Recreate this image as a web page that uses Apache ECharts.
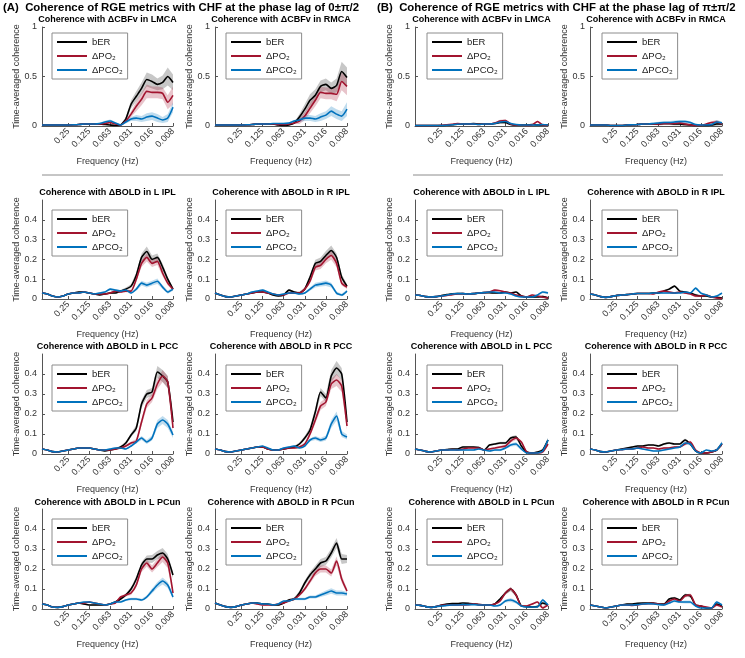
<!DOCTYPE html>
<html><head><meta charset="utf-8">
<script src="https://cdn.jsdelivr.net/npm/echarts@6/dist/echarts.min.js"></script>
<style>html,body{margin:0;padding:0;background:#fff}#c{width:745px;height:658px}</style>
</head><body><div id="c"></div>
<script>
// ---------- DATA ----------
const freqHz = [0.5946,0.5,0.4204,0.3536,0.2973,0.25,0.2102,0.1768,0.1487,0.125,0.1051,0.0884,0.0743,0.0625,0.0526,0.0442,0.0372,0.03125,0.0263,0.0221,0.0186,0.015625,0.0131,0.0110,0.0093,0.0078125];
const xTickValues = [0.25,0.125,0.0625,0.03125,0.015625,0.0078125];
const xTickLabels = ['0.25','0.125','0.063','0.031','0.016','0.008'];
const seriesNames = ['bER','ΔPO₂','ΔPCO₂'];
const panelTitles = ['Coherence with ΔCBFv in LMCA','Coherence with ΔCBFv in RMCA','Coherence with ΔBOLD in L IPL','Coherence with ΔBOLD in R IPL','Coherence with ΔBOLD in L PCC','Coherence with ΔBOLD in R PCC','Coherence with ΔBOLD in L PCun','Coherence with ΔBOLD in R PCun'];
const groupHeaders = ['(A)  Coherence of RGE metrics with CHF at the phase lag of 0±π/2','(B)  Coherence of RGE metrics with CHF at the phase lag of π±π/2'];
const yTicksRow1 = [0,0.5,1];
const yTicksOther = [0,0.1,0.2,0.3,0.4];

// (A) phase lag 0 - means and half-widths of shaded band
const aLMCA_bER   = [0.01,0.01,0.01,0.01,0.01,0.01,0.012,0.015,0.02,0.02,0.02,0.02,0.015,0.01,0.005,0.01,0.07,0.22,0.3,0.38,0.47,0.45,0.42,0.44,0.5,0.44];
const aLMCA_PO2   = [0.01,0.01,0.01,0.01,0.01,0.01,0.012,0.015,0.02,0.02,0.02,0.02,0.025,0.035,0.02,0.01,0.05,0.12,0.2,0.27,0.35,0.34,0.34,0.33,0.24,0.31];
const aLMCA_PCO2  = [0.01,0.01,0.01,0.01,0.01,0.01,0.012,0.015,0.02,0.02,0.02,0.025,0.04,0.05,0.03,0.01,0.04,0.07,0.08,0.07,0.09,0.1,0.08,0.06,0.08,0.19];
const aLMCA_bER_e = [0.003,0.003,0.003,0.003,0.003,0.003,0.004,0.005,0.006,0.006,0.006,0.006,0.006,0.006,0.005,0.006,0.02,0.04,0.05,0.06,0.07,0.07,0.06,0.07,0.09,0.08];
const aLMCA_PO2_e = [0.003,0.003,0.003,0.003,0.003,0.003,0.004,0.005,0.006,0.006,0.006,0.006,0.008,0.01,0.006,0.006,0.015,0.03,0.05,0.06,0.07,0.06,0.06,0.06,0.07,0.09];
const aLMCA_PCO2_e= [0.003,0.003,0.003,0.003,0.003,0.003,0.004,0.005,0.006,0.006,0.006,0.008,0.012,0.015,0.01,0.006,0.015,0.02,0.03,0.03,0.04,0.04,0.04,0.03,0.04,0.05];

const aRMCA_bER   = [0.01,0.01,0.01,0.01,0.01,0.01,0.012,0.015,0.02,0.02,0.02,0.02,0.01,0.005,0.01,0.03,0.09,0.17,0.26,0.31,0.4,0.42,0.38,0.41,0.55,0.49];
const aRMCA_PO2   = [0.01,0.01,0.01,0.01,0.01,0.01,0.012,0.015,0.02,0.02,0.02,0.02,0.015,0.015,0.02,0.03,0.05,0.1,0.18,0.26,0.34,0.33,0.33,0.32,0.45,0.4];
const aRMCA_PCO2  = [0.01,0.01,0.01,0.01,0.01,0.01,0.012,0.015,0.02,0.02,0.02,0.025,0.025,0.025,0.03,0.05,0.06,0.08,0.08,0.07,0.09,0.11,0.15,0.12,0.1,0.17];
const aRMCA_bER_e = [0.003,0.003,0.003,0.003,0.003,0.003,0.004,0.005,0.006,0.006,0.006,0.006,0.006,0.006,0.006,0.01,0.03,0.05,0.06,0.06,0.06,0.06,0.06,0.07,0.1,0.1];
const aRMCA_PO2_e = [0.003,0.003,0.003,0.003,0.003,0.003,0.004,0.005,0.006,0.006,0.006,0.006,0.006,0.006,0.006,0.01,0.03,0.04,0.05,0.06,0.06,0.06,0.06,0.07,0.09,0.09];
const aRMCA_PCO2_e= [0.003,0.003,0.003,0.003,0.003,0.003,0.004,0.005,0.006,0.006,0.006,0.006,0.006,0.008,0.008,0.01,0.02,0.03,0.03,0.03,0.04,0.04,0.05,0.05,0.05,0.07];

const aLIPL_bER   = [0.03,0.025,0.015,0.01,0.015,0.025,0.03,0.035,0.035,0.03,0.025,0.02,0.025,0.03,0.03,0.04,0.05,0.065,0.12,0.21,0.24,0.2,0.21,0.16,0.1,0.05];
const aLIPL_PO2   = [0.03,0.025,0.015,0.01,0.015,0.025,0.03,0.03,0.035,0.03,0.025,0.025,0.025,0.03,0.04,0.035,0.04,0.04,0.1,0.18,0.21,0.18,0.19,0.13,0.08,0.05];
const aLIPL_PCO2  = [0.03,0.025,0.015,0.01,0.015,0.025,0.03,0.03,0.035,0.03,0.025,0.03,0.035,0.05,0.045,0.04,0.045,0.03,0.05,0.08,0.07,0.08,0.09,0.06,0.035,0.05];
const aLIPL_bER_e = [0.004,0.004,0.003,0.003,0.003,0.004,0.004,0.004,0.004,0.004,0.004,0.004,0.004,0.005,0.005,0.006,0.008,0.01,0.015,0.02,0.025,0.02,0.02,0.018,0.012,0.008];
const aLIPL_PO2_e = [0.004,0.004,0.003,0.003,0.003,0.004,0.004,0.004,0.004,0.004,0.004,0.004,0.004,0.005,0.005,0.005,0.006,0.008,0.012,0.018,0.02,0.018,0.018,0.015,0.01,0.008];
const aLIPL_PCO2_e= [0.003,0.003,0.003,0.003,0.003,0.003,0.003,0.003,0.003,0.003,0.003,0.004,0.004,0.006,0.005,0.005,0.005,0.005,0.008,0.012,0.012,0.012,0.014,0.01,0.008,0.008];

const aRIPL_bER   = [0.03,0.02,0.012,0.01,0.015,0.02,0.025,0.03,0.035,0.035,0.03,0.02,0.015,0.02,0.045,0.035,0.03,0.05,0.11,0.18,0.19,0.22,0.245,0.21,0.11,0.065];
const aRIPL_PO2   = [0.03,0.02,0.012,0.01,0.015,0.02,0.025,0.03,0.035,0.035,0.03,0.025,0.02,0.02,0.03,0.03,0.03,0.05,0.09,0.16,0.17,0.2,0.22,0.18,0.08,0.06];
const aRIPL_PCO2  = [0.03,0.02,0.012,0.01,0.015,0.02,0.025,0.035,0.04,0.045,0.035,0.025,0.02,0.025,0.03,0.03,0.025,0.03,0.05,0.07,0.075,0.08,0.07,0.03,0.02,0.04];
const aRIPL_bER_e = [0.004,0.004,0.003,0.003,0.003,0.004,0.004,0.004,0.004,0.004,0.004,0.004,0.004,0.005,0.006,0.006,0.006,0.008,0.012,0.018,0.02,0.022,0.025,0.02,0.015,0.01];
const aRIPL_PO2_e = [0.004,0.004,0.003,0.003,0.003,0.004,0.004,0.004,0.004,0.004,0.004,0.004,0.004,0.005,0.005,0.005,0.006,0.008,0.012,0.016,0.018,0.02,0.022,0.02,0.012,0.01];
const aRIPL_PCO2_e= [0.003,0.003,0.003,0.003,0.003,0.003,0.003,0.003,0.004,0.004,0.004,0.004,0.004,0.004,0.004,0.005,0.005,0.005,0.008,0.012,0.012,0.014,0.012,0.008,0.006,0.008];

const aLPCC_bER   = [0.025,0.02,0.012,0.01,0.015,0.02,0.025,0.03,0.03,0.03,0.025,0.02,0.015,0.02,0.025,0.035,0.055,0.095,0.13,0.25,0.3,0.31,0.41,0.39,0.36,0.16];
const aLPCC_PO2   = [0.025,0.02,0.012,0.01,0.015,0.02,0.025,0.03,0.03,0.03,0.025,0.02,0.02,0.02,0.025,0.03,0.04,0.055,0.065,0.16,0.25,0.28,0.35,0.39,0.36,0.13];
const aLPCC_PCO2  = [0.025,0.02,0.012,0.01,0.015,0.02,0.025,0.03,0.03,0.03,0.025,0.02,0.02,0.025,0.03,0.03,0.025,0.04,0.06,0.08,0.06,0.08,0.15,0.17,0.15,0.095];
const aLPCC_bER_e = [0.004,0.004,0.003,0.003,0.003,0.004,0.004,0.004,0.004,0.004,0.004,0.004,0.004,0.004,0.005,0.006,0.008,0.01,0.015,0.02,0.02,0.02,0.03,0.03,0.03,0.02];
const aLPCC_PO2_e = [0.004,0.004,0.003,0.003,0.003,0.004,0.004,0.004,0.004,0.004,0.004,0.004,0.004,0.004,0.005,0.005,0.006,0.008,0.01,0.018,0.02,0.02,0.025,0.03,0.03,0.02];
const aLPCC_PCO2_e= [0.003,0.003,0.003,0.003,0.003,0.003,0.003,0.003,0.003,0.003,0.003,0.003,0.003,0.004,0.004,0.004,0.004,0.005,0.008,0.01,0.01,0.012,0.02,0.02,0.02,0.015];

const aRPCC_bER   = [0.025,0.02,0.012,0.01,0.015,0.02,0.025,0.03,0.035,0.035,0.025,0.02,0.02,0.025,0.03,0.035,0.05,0.08,0.12,0.21,0.31,0.28,0.39,0.43,0.4,0.16];
const aRPCC_PO2   = [0.025,0.02,0.012,0.01,0.015,0.02,0.025,0.03,0.035,0.035,0.025,0.02,0.02,0.025,0.03,0.03,0.035,0.05,0.1,0.17,0.24,0.26,0.35,0.37,0.34,0.14];
const aRPCC_PCO2  = [0.025,0.02,0.012,0.01,0.015,0.02,0.025,0.03,0.035,0.04,0.03,0.02,0.02,0.03,0.035,0.04,0.03,0.04,0.07,0.08,0.07,0.08,0.15,0.19,0.1,0.085];
const aRPCC_bER_e = [0.004,0.004,0.003,0.003,0.003,0.004,0.004,0.004,0.004,0.004,0.004,0.004,0.004,0.004,0.005,0.006,0.008,0.01,0.015,0.02,0.02,0.02,0.03,0.035,0.03,0.02];
const aRPCC_PO2_e = [0.004,0.004,0.003,0.003,0.003,0.004,0.004,0.004,0.004,0.004,0.004,0.004,0.004,0.004,0.005,0.005,0.006,0.008,0.012,0.018,0.02,0.02,0.025,0.03,0.03,0.02];
const aRPCC_PCO2_e= [0.003,0.003,0.003,0.003,0.003,0.003,0.003,0.003,0.003,0.003,0.003,0.003,0.003,0.004,0.004,0.004,0.004,0.005,0.008,0.01,0.01,0.012,0.02,0.022,0.015,0.012];

const aLPCun_bER   = [0.025,0.02,0.01,0.008,0.012,0.02,0.025,0.03,0.025,0.02,0.02,0.02,0.02,0.025,0.035,0.05,0.07,0.1,0.15,0.22,0.25,0.25,0.27,0.28,0.25,0.17];
const aLPCun_PO2   = [0.025,0.02,0.01,0.008,0.012,0.02,0.025,0.03,0.03,0.035,0.03,0.025,0.02,0.025,0.03,0.06,0.07,0.08,0.12,0.2,0.23,0.2,0.23,0.26,0.23,0.08];
const aLPCun_PCO2  = [0.025,0.02,0.01,0.008,0.012,0.02,0.025,0.03,0.035,0.035,0.03,0.025,0.02,0.025,0.035,0.035,0.045,0.05,0.05,0.045,0.06,0.09,0.12,0.14,0.12,0.06];
const aLPCun_bER_e = [0.004,0.004,0.003,0.003,0.003,0.004,0.004,0.004,0.004,0.004,0.004,0.004,0.004,0.004,0.005,0.006,0.008,0.01,0.012,0.015,0.018,0.02,0.02,0.025,0.025,0.015];
const aLPCun_PO2_e = [0.004,0.004,0.003,0.003,0.003,0.004,0.004,0.004,0.004,0.004,0.004,0.004,0.004,0.004,0.005,0.006,0.008,0.01,0.012,0.015,0.018,0.018,0.02,0.025,0.025,0.012];
const aLPCun_PCO2_e= [0.003,0.003,0.003,0.003,0.003,0.003,0.003,0.003,0.003,0.003,0.003,0.003,0.003,0.004,0.004,0.004,0.005,0.006,0.006,0.006,0.008,0.012,0.015,0.018,0.015,0.01];

const aRPCun_bER   = [0.03,0.02,0.012,0.008,0.012,0.02,0.025,0.03,0.03,0.025,0.025,0.02,0.02,0.03,0.045,0.05,0.08,0.13,0.17,0.2,0.23,0.24,0.28,0.33,0.25,0.25];
const aRPCun_PO2   = [0.03,0.02,0.012,0.008,0.012,0.02,0.025,0.03,0.025,0.02,0.02,0.02,0.025,0.03,0.04,0.05,0.07,0.1,0.14,0.18,0.2,0.2,0.18,0.24,0.15,0.09];
const aRPCun_PCO2  = [0.03,0.02,0.012,0.008,0.012,0.02,0.025,0.03,0.03,0.025,0.025,0.02,0.025,0.04,0.04,0.05,0.05,0.05,0.06,0.06,0.07,0.08,0.09,0.08,0.08,0.075];
const aRPCun_bER_e = [0.004,0.004,0.003,0.003,0.003,0.004,0.004,0.004,0.004,0.004,0.004,0.004,0.004,0.005,0.006,0.007,0.01,0.012,0.015,0.018,0.02,0.02,0.022,0.025,0.025,0.02];
const aRPCun_PO2_e = [0.004,0.004,0.003,0.003,0.003,0.004,0.004,0.004,0.004,0.004,0.004,0.004,0.004,0.005,0.005,0.006,0.008,0.01,0.012,0.015,0.018,0.018,0.018,0.022,0.018,0.012];
const aRPCun_PCO2_e= [0.003,0.003,0.003,0.003,0.003,0.003,0.003,0.003,0.003,0.003,0.003,0.003,0.003,0.004,0.004,0.005,0.006,0.006,0.008,0.008,0.01,0.012,0.014,0.012,0.012,0.01];

// (B) phase lag pi - means, plus one band half-width per panel
const bLMCA_bER  = [0.005,0.005,0.005,0.005,0.005,0.005,0.008,0.012,0.018,0.02,0.02,0.025,0.02,0.02,0.02,0.025,0.035,0.035,0.015,0.01,0.01,0.01,0.015,0.01,0.01,0.01];
const bLMCA_PO2  = [0.005,0.005,0.005,0.005,0.005,0.008,0.012,0.018,0.025,0.02,0.02,0.02,0.015,0.02,0.02,0.03,0.05,0.055,0.02,0.01,0.01,0.005,0.01,0.045,0.01,0.005];
const bLMCA_PCO2 = [0.005,0.005,0.005,0.005,0.005,0.005,0.008,0.012,0.018,0.02,0.02,0.02,0.015,0.02,0.02,0.025,0.04,0.045,0.025,0.015,0.01,0.01,0.01,0.01,0.015,0.01];
const bLMCA_e    = [0.003,0.003,0.003,0.003,0.003,0.003,0.004,0.005,0.006,0.006,0.006,0.006,0.006,0.006,0.006,0.008,0.012,0.012,0.008,0.006,0.006,0.006,0.006,0.01,0.006,0.005];
const bRMCA_bER  = [0.01,0.01,0.01,0.01,0.005,0.005,0.005,0.01,0.012,0.015,0.02,0.02,0.02,0.02,0.025,0.025,0.02,0.02,0.015,0.01,0.005,0.005,0.005,0.01,0.02,0.02];
const bRMCA_PO2  = [0.01,0.01,0.01,0.01,0.005,0.005,0.005,0.01,0.012,0.015,0.02,0.02,0.02,0.02,0.025,0.025,0.025,0.03,0.02,0.01,0.005,0.005,0.02,0.035,0.04,0.02];
const bRMCA_PCO2 = [0.01,0.01,0.01,0.01,0.005,0.005,0.005,0.01,0.012,0.015,0.02,0.02,0.025,0.03,0.035,0.035,0.04,0.045,0.045,0.035,0.015,0.01,0.01,0.015,0.04,0.03];
const bRMCA_e    = [0.003,0.003,0.003,0.003,0.003,0.003,0.004,0.005,0.006,0.006,0.006,0.008,0.01,0.012,0.014,0.015,0.015,0.015,0.015,0.012,0.008,0.006,0.008,0.012,0.02,0.015];
const bLIPL_bER  = [0.02,0.018,0.012,0.01,0.012,0.018,0.022,0.026,0.028,0.027,0.025,0.027,0.03,0.032,0.032,0.03,0.03,0.035,0.03,0.035,0.015,0.01,0.01,0.01,0.012,0.005];
const bLIPL_PO2  = [0.02,0.018,0.012,0.01,0.012,0.015,0.018,0.022,0.025,0.027,0.025,0.027,0.03,0.032,0.035,0.045,0.042,0.035,0.03,0.02,0.015,0.01,0.02,0.015,0.01,0.005];
const bLIPL_PCO2 = [0.02,0.018,0.012,0.01,0.012,0.015,0.02,0.025,0.027,0.027,0.025,0.027,0.03,0.032,0.035,0.035,0.03,0.03,0.025,0.015,0.01,0.01,0.01,0.02,0.035,0.03];
const bLIPL_e    = [0.003,0.003,0.003,0.003,0.003,0.003,0.003,0.003,0.003,0.003,0.003,0.003,0.003,0.003,0.004,0.004,0.004,0.004,0.004,0.004,0.004,0.004,0.004,0.004,0.006,0.006];
const bRIPL_bER  = [0.025,0.02,0.012,0.008,0.012,0.018,0.02,0.022,0.025,0.028,0.028,0.028,0.03,0.03,0.04,0.05,0.065,0.04,0.035,0.03,0.02,0.015,0.015,0.01,0.008,0.005];
const bRIPL_PO2  = [0.025,0.02,0.012,0.008,0.012,0.018,0.02,0.022,0.025,0.028,0.028,0.028,0.025,0.035,0.04,0.035,0.03,0.035,0.03,0.025,0.015,0.015,0.02,0.01,0.005,0.002];
const bRIPL_PCO2 = [0.025,0.02,0.012,0.008,0.012,0.018,0.02,0.022,0.025,0.028,0.028,0.028,0.03,0.03,0.03,0.03,0.03,0.03,0.035,0.03,0.055,0.03,0.02,0.01,0.015,0.03];
const bRIPL_e    = [0.003,0.003,0.003,0.003,0.003,0.003,0.003,0.003,0.003,0.003,0.003,0.003,0.003,0.003,0.004,0.005,0.005,0.004,0.004,0.004,0.006,0.005,0.004,0.004,0.004,0.005];
const bLPCC_bER  = [0.025,0.02,0.013,0.01,0.015,0.02,0.022,0.025,0.025,0.035,0.035,0.035,0.033,0.02,0.045,0.05,0.055,0.055,0.08,0.085,0.04,0.01,0.005,0.01,0.02,0.07];
const bLPCC_PO2  = [0.025,0.02,0.013,0.01,0.015,0.02,0.02,0.022,0.02,0.025,0.03,0.03,0.03,0.02,0.025,0.03,0.035,0.04,0.065,0.08,0.06,0.01,0.005,0.005,0.01,0.05];
const bLPCC_PCO2 = [0.025,0.02,0.013,0.01,0.015,0.02,0.02,0.02,0.02,0.02,0.02,0.02,0.025,0.02,0.015,0.02,0.02,0.03,0.045,0.05,0.025,0.005,0.005,0.005,0.015,0.07];
const bLPCC_e    = [0.003,0.003,0.003,0.003,0.003,0.003,0.003,0.003,0.003,0.004,0.004,0.004,0.004,0.004,0.005,0.005,0.006,0.006,0.008,0.01,0.006,0.004,0.004,0.004,0.006,0.01];
const bRPCC_bER  = [0.025,0.02,0.012,0.01,0.015,0.02,0.025,0.03,0.035,0.04,0.04,0.045,0.045,0.04,0.05,0.055,0.05,0.05,0.07,0.05,0.015,0.005,0.005,0.01,0.02,0.05];
const bRPCC_PO2  = [0.025,0.02,0.012,0.01,0.015,0.02,0.022,0.025,0.025,0.03,0.035,0.03,0.03,0.025,0.03,0.03,0.035,0.035,0.05,0.06,0.02,0.005,0.005,0.01,0.02,0.05];
const bRPCC_PCO2 = [0.025,0.02,0.012,0.01,0.015,0.02,0.022,0.025,0.025,0.03,0.025,0.02,0.015,0.015,0.02,0.025,0.03,0.035,0.055,0.05,0.015,0.005,0.02,0.015,0.02,0.055];
const bRPCC_e    = [0.003,0.003,0.003,0.003,0.003,0.003,0.003,0.003,0.004,0.004,0.004,0.004,0.004,0.004,0.005,0.005,0.005,0.005,0.008,0.008,0.005,0.004,0.004,0.004,0.005,0.01];
const bLPCun_bER  = [0.02,0.018,0.012,0.008,0.012,0.02,0.025,0.027,0.027,0.03,0.028,0.025,0.022,0.02,0.02,0.025,0.05,0.08,0.1,0.07,0.015,0.012,0.01,0.012,0.03,0.02];
const bLPCun_PO2  = [0.02,0.018,0.012,0.008,0.012,0.018,0.02,0.02,0.02,0.02,0.022,0.025,0.022,0.02,0.02,0.025,0.04,0.08,0.1,0.07,0.015,0.015,0.025,0.035,0.005,0.02];
const bLPCun_PCO2 = [0.02,0.018,0.012,0.008,0.012,0.015,0.018,0.02,0.02,0.022,0.022,0.022,0.02,0.02,0.02,0.015,0.02,0.04,0.045,0.035,0.015,0.01,0.01,0.01,0.045,0.02];
const bLPCun_e    = [0.003,0.003,0.003,0.003,0.003,0.003,0.003,0.003,0.003,0.003,0.003,0.003,0.003,0.003,0.003,0.004,0.006,0.008,0.01,0.008,0.004,0.004,0.004,0.005,0.008,0.006];
const bRPCun_bER  = [0.02,0.015,0.01,0.005,0.01,0.015,0.02,0.025,0.025,0.028,0.03,0.03,0.03,0.025,0.025,0.05,0.055,0.045,0.07,0.065,0.02,0.015,0.005,0.005,0.025,0.015];
const bRPCun_PO2  = [0.02,0.015,0.01,0.005,0.01,0.015,0.02,0.02,0.018,0.02,0.025,0.027,0.028,0.025,0.022,0.04,0.05,0.04,0.065,0.07,0.02,0.015,0.01,0.005,0.02,0.01];
const bRPCun_PCO2 = [0.02,0.015,0.01,0.005,0.01,0.015,0.02,0.02,0.02,0.022,0.025,0.027,0.025,0.022,0.02,0.03,0.04,0.035,0.035,0.035,0.015,0.005,0.005,0.005,0.035,0.02];
const bRPCun_e    = [0.003,0.003,0.003,0.003,0.003,0.003,0.003,0.003,0.003,0.003,0.003,0.003,0.003,0.003,0.003,0.005,0.006,0.005,0.008,0.008,0.004,0.004,0.003,0.003,0.006,0.005];

// ---------- PANEL LIST (group, row, column) ----------
const panels = [
  {g:0,r:0,c:0,m:[aLMCA_bER,aLMCA_PO2,aLMCA_PCO2],e:[aLMCA_bER_e,aLMCA_PO2_e,aLMCA_PCO2_e]},
  {g:0,r:0,c:1,m:[aRMCA_bER,aRMCA_PO2,aRMCA_PCO2],e:[aRMCA_bER_e,aRMCA_PO2_e,aRMCA_PCO2_e]},
  {g:0,r:1,c:0,m:[aLIPL_bER,aLIPL_PO2,aLIPL_PCO2],e:[aLIPL_bER_e,aLIPL_PO2_e,aLIPL_PCO2_e]},
  {g:0,r:1,c:1,m:[aRIPL_bER,aRIPL_PO2,aRIPL_PCO2],e:[aRIPL_bER_e,aRIPL_PO2_e,aRIPL_PCO2_e]},
  {g:0,r:2,c:0,m:[aLPCC_bER,aLPCC_PO2,aLPCC_PCO2],e:[aLPCC_bER_e,aLPCC_PO2_e,aLPCC_PCO2_e]},
  {g:0,r:2,c:1,m:[aRPCC_bER,aRPCC_PO2,aRPCC_PCO2],e:[aRPCC_bER_e,aRPCC_PO2_e,aRPCC_PCO2_e]},
  {g:0,r:3,c:0,m:[aLPCun_bER,aLPCun_PO2,aLPCun_PCO2],e:[aLPCun_bER_e,aLPCun_PO2_e,aLPCun_PCO2_e]},
  {g:0,r:3,c:1,m:[aRPCun_bER,aRPCun_PO2,aRPCun_PCO2],e:[aRPCun_bER_e,aRPCun_PO2_e,aRPCun_PCO2_e]},
  {g:1,r:0,c:0,m:[bLMCA_bER,bLMCA_PO2,bLMCA_PCO2],e:[bLMCA_e,bLMCA_e,bLMCA_e]},
  {g:1,r:0,c:1,m:[bRMCA_bER,bRMCA_PO2,bRMCA_PCO2],e:[bRMCA_e,bRMCA_e,bRMCA_e]},
  {g:1,r:1,c:0,m:[bLIPL_bER,bLIPL_PO2,bLIPL_PCO2],e:[bLIPL_e,bLIPL_e,bLIPL_e]},
  {g:1,r:1,c:1,m:[bRIPL_bER,bRIPL_PO2,bRIPL_PCO2],e:[bRIPL_e,bRIPL_e,bRIPL_e]},
  {g:1,r:2,c:0,m:[bLPCC_bER,bLPCC_PO2,bLPCC_PCO2],e:[bLPCC_e,bLPCC_e,bLPCC_e]},
  {g:1,r:2,c:1,m:[bRPCC_bER,bRPCC_PO2,bRPCC_PCO2],e:[bRPCC_e,bRPCC_e,bRPCC_e]},
  {g:1,r:3,c:0,m:[bLPCun_bER,bLPCun_PO2,bLPCun_PCO2],e:[bLPCun_e,bLPCun_e,bLPCun_e]},
  {g:1,r:3,c:1,m:[bRPCun_bER,bRPCun_PO2,bRPCun_PCO2],e:[bRPCun_e,bRPCun_e,bRPCun_e]}
];

// ---------- LAYOUT / STYLE ----------
const FONT = '"Liberation Sans", Arial, sans-serif';
const colLeft = [42,215,415,590], colWidth = [131,132,133,132];
const rowTop = [27,200,354,509], rowHeight = [99,99,100,100];
const legendDx = [10,11,12,12], legendDy = [6,10,11,10];
const titleY = [20,193,347,503];
const lineColors = ['#000000','#a2142f','#0072bd'];
const bandColors = ['rgba(0,0,0,0.22)','rgba(162,20,47,0.25)','rgba(0,114,189,0.25)'];
const axisCol = '#555555', textCol = '#333333';

function xLabel(v){
  let best = 0;
  for (let j=1;j<xTickValues.length;j++)
    if (Math.abs(Math.log(xTickValues[j]/v)) < Math.abs(Math.log(xTickValues[best]/v))) best = j;
  return xTickLabels[best];
}

function bandRenderer(m, e, color){
  return function(params, api){
    if (params.dataIndex !== 0) return null;
    const top = [], bot = [];
    for (let i=0;i<freqHz.length;i++){
      top.push(api.coord([freqHz[i], m[i]+e[i]]));
      bot.push(api.coord([freqHz[i], Math.max(0, m[i]-e[i])]));
    }
    bot.reverse();
    return {type:'polygon', shape:{points: top.concat(bot)}, style:{fill:color, stroke:null}};
  };
}

const grid=[], xAxis=[], yAxis=[], legend=[], series=[], graphic=[];
panels.forEach((p,k)=>{
  const col = p.g*2 + p.c;
  grid.push({left:colLeft[col], top:rowTop[p.r], width:colWidth[col], height:rowHeight[p.r]});
  xAxis.push({
    type:'log', logBase:2, gridIndex:k, inverse:true,
    min:freqHz[freqHz.length-1], max:freqHz[0],
    name:'Frequency (Hz)', nameLocation:'middle', nameGap:31,
    nameTextStyle:{fontSize:9, fontFamily:FONT, color:textCol},
    axisLine:{show:true, lineStyle:{color:axisCol, width:1}},
    axisTick:{show:true, inside:true, length:3, customValues:xTickValues, lineStyle:{color:axisCol}},
    axisLabel:{rotate:45, fontSize:9, fontFamily:FONT, color:textCol, margin:4, customValues:xTickValues, formatter:xLabel},
    splitLine:{show:false}, minorTick:{show:false}
  });
  const first = p.r===0;
  yAxis.push({
    type:'value', gridIndex:k, min:0, max: first?1:0.5, interval: first?0.5:0.1,
    name:'Time-averaged coherence', nameLocation:'middle', nameGap:19, nameRotate:90,
    nameTextStyle:{fontSize:9, fontFamily:FONT, color:textCol},
    axisLine:{show:true, lineStyle:{color:axisCol, width:1}},
    axisTick:{show:true, inside:true, length:3, lineStyle:{color:axisCol}},
    axisLabel:{fontSize:9, fontFamily:FONT, color:textCol, margin:5, showMaxLabel:first,
      formatter: v => { const t = first?yTicksRow1:yTicksOther; const h = t.find(x=>Math.abs(x-v)<1e-6); return h===undefined?'':String(h); }},
    splitLine:{show:false}
  });
  legend.push({
    data:seriesNames, orient:'vertical', left:colLeft[col]+legendDx[col], top:rowTop[p.r]+legendDy[p.r],
    icon:'rect', itemWidth:30, itemHeight:2, itemGap:4, padding:[4,5,4,5],
    borderColor:'#8c8c8c', borderWidth:1, borderRadius:0, backgroundColor:'#ffffff',
    textStyle:{fontSize:9.5, fontFamily:FONT, color:'#222'}, selectedMode:false, z:10
  });
  for (let s=0;s<3;s++){
    const m=p.m[s], e=p.e[s];
    series.push({type:'custom', name:'band'+k+'_'+s, xAxisIndex:k, yAxisIndex:k, silent:true, z:1, clip:true,
      encode:{x:0, y:[1,2]},
      data: freqHz.map((f,i)=>[f, Math.max(0,m[i]-e[i]), m[i]+e[i]]),
      renderItem: bandRenderer(m, e, bandColors[s])});
  }
  for (let s=0;s<3;s++){
    series.push({type:'line', name:seriesNames[s], xAxisIndex:k, yAxisIndex:k,
      data:freqHz.map((f,i)=>[f, p.m[s][i]]), symbol:'none', smooth:0.2,
      lineStyle:{color:lineColors[s], width:1.6}, itemStyle:{color:lineColors[s]}, z:3});
  }
  graphic.push({type:'text', x:colLeft[col]+colWidth[col]/2, y:titleY[p.r],
    style:{text:panelTitles[p.r*2+p.c], fill:'#000', font:'bold 9px '+FONT, textAlign:'center', textVerticalAlign:'middle'}});
});
graphic.push({type:'text', x:3, y:8, style:{text:groupHeaders[0], fill:'#000', font:'bold 11.4px '+FONT, textAlign:'left', textVerticalAlign:'middle'}});
graphic.push({type:'text', x:377, y:8, style:{text:groupHeaders[1], fill:'#000', font:'bold 11.4px '+FONT, textAlign:'left', textVerticalAlign:'middle'}});
graphic.push({type:'line', shape:{x1:42,y1:175,x2:350,y2:175}, style:{stroke:'#8c8c8c', lineWidth:1}});
graphic.push({type:'line', shape:{x1:413,y1:175,x2:723,y2:175}, style:{stroke:'#8c8c8c', lineWidth:1}});

const chart = echarts.init(document.getElementById('c'), null, {renderer:'canvas'});
chart.setOption({animation:false, backgroundColor:'#ffffff', grid, xAxis, yAxis, legend, series, graphic});
</script></body></html>
